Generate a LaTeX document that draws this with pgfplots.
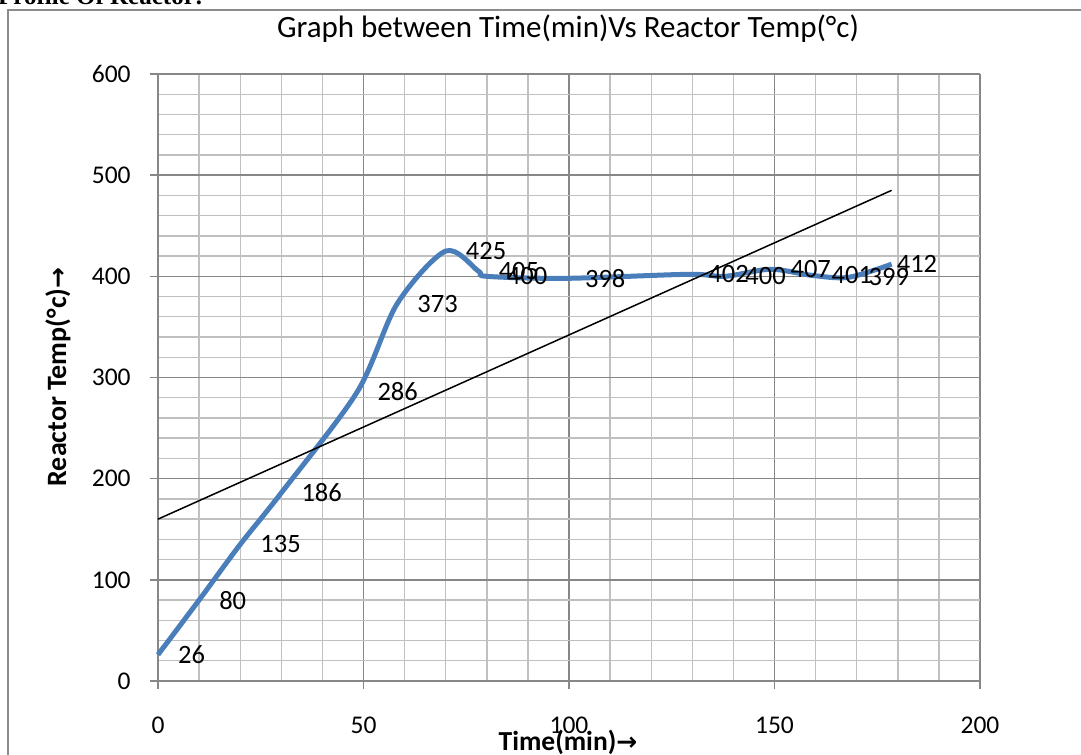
\documentclass[border=0pt]{standalone}
\usepackage{pgfplots}
\pgfplotsset{compat=1.18}
\usepackage{fontspec}
\setmainfont{Carlito}
\newfontfamily\serifb{Liberation Serif}
\newfontfamily\dejavu{DejaVu Sans}
\definecolor{excelblue}{HTML}{4A7EBB}
\definecolor{majgrid}{HTML}{878787}
\definecolor{mingrid}{HTML}{C0C0C0}
\begin{document}
\begin{tikzpicture}[x=1bp,y=1bp]
\fontsize{24.5bp}{29bp}\selectfont
\begin{axis}[
  at={(158bp,74bp)}, anchor=south west,
  scale only axis, width=822bp, height=607bp,
  xmin=0, xmax=200, ymin=0, ymax=600,
  xtick={0,50,...,200}, ytick={0,100,...,600},
  minor x tick num=4, minor y tick num=4,
  grid=both,
  major grid style={draw=majgrid, line width=1.4bp},
  minor grid style={draw=mingrid, line width=1.4bp},
  axis lines*=left,
  axis line style={draw=majgrid, line width=1.4bp},
  tick align=outside, major tick length=8bp, minor tick length=0pt,
  tick style={draw=majgrid, line width=1.4bp},
  /pgf/number format/assume math mode=true,
  ticklabel style={font=\fontsize{25.5bp}{29bp}\selectfont},
  xticklabel style={yshift=-20bp},
  yticklabel style={xshift=-11bp},
  clip=false,
]
\addplot[excelblue, line width=5bp, smooth, tension=0.5] coordinates {
 (0,26) (10,80) (20,135) (30,186) (48.5,286) (58.2,373) (70,425) (78,405) (80,400)
 (99,398) (129,402) (138,400) (149,407) (159,401) (168,399) (178.5,412)
};
\addplot[black, line width=1.5bp] coordinates {(0,160) (178.5,485)};
% data labels
\addplot[only marks, mark=none, nodes near coords, point meta=explicit symbolic,
  every node near coord/.style={anchor=west, xshift=20bp, inner sep=0pt, text=black,
  font=\fontsize{26.5bp}{30bp}\selectfont}] table[meta=l] {
x y l
0 26 26
10 80 80
20 135 135
30 186 186
48.5 286 286
58.2 373 373
70 425 425
78 405 405
80 400 400
99 398 398
129 402 402
138 400 400
149 407 407
159 401 401
168 399 399
};
\addplot[only marks, mark=none, nodes near coords, point meta=explicit symbolic,
  every node near coord/.style={anchor=west, xshift=5bp, inner sep=0pt, text=black,
  font=\fontsize{26.5bp}{30bp}\selectfont}] table[meta=l] {
x y l
178.5 412 412
};
\end{axis}
% title
\node[anchor=base, inner sep=0pt, font=\fontsize{31bp}{36bp}\selectfont] at (568bp,717bp) {Graph between Time(min)Vs Reactor Temp(°c)};
% axis labels
\node[inner sep=0pt, font=\bfseries\fontsize{27.5bp}{32bp}\selectfont] at (568bp,13bp) {Time(min){\dejavu\bfseries\fontsize{25bp}{30bp}\selectfont →}};
\node[inner sep=0pt, rotate=90, font=\bfseries\fontsize{28bp}{32bp}\selectfont] at (58bp,378bp) {Reactor Temp(°c){\dejavu\bfseries\fontsize{25bp}{30bp}\selectfont →}};
% frame
\draw[draw=gray!90, line width=2bp] (8bp,-5bp) -- (8bp,745bp) -- (1090bp,745bp);
\node[anchor=base west, inner sep=0pt, font=\serifb\bfseries\fontsize{25bp}{29bp}\selectfont] at (-2bp,750bp) {Profile Of Reactor:};
\pgfresetboundingbox
\useasboundingbox (0,0) rectangle (1081bp,755bp);
\end{tikzpicture}
\end{document}
